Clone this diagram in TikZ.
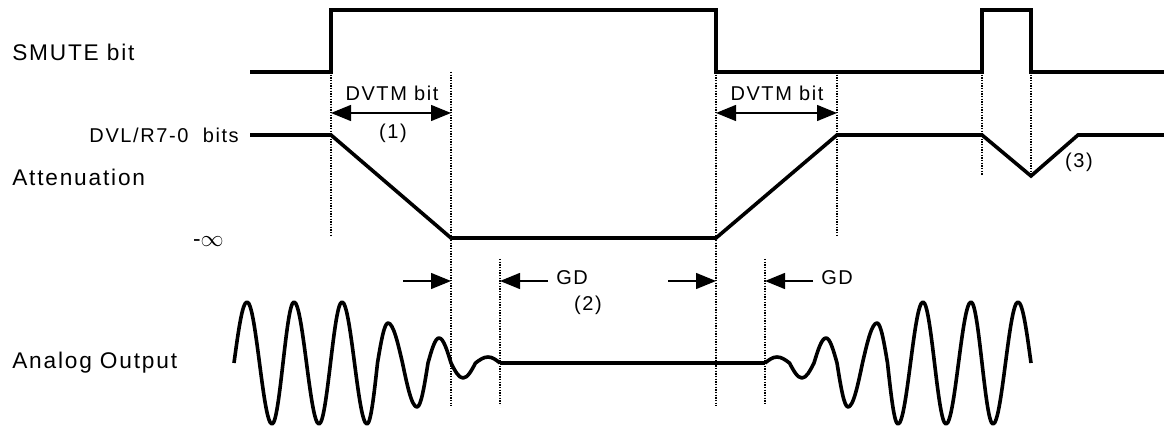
\documentclass[tikz,border=0pt]{standalone}
\usepackage{fontspec}
\setmainfont{Liberation Sans}[LetterSpace=8]
\usetikzlibrary{arrows.meta}

\tikzset{
  signal/.style={line width=2.7pt, line join=miter},
  guide/.style={line width=1pt, dash pattern=on 1pt off 1pt},
  span/.style={line width=1pt, {Triangle[length=15pt,width=12pt]}-{Triangle[length=15pt,width=12pt]}},
  push/.style={line width=1pt, -{Triangle[length=15pt,width=12pt]}},
  rowlabel/.style={inner sep=0pt, anchor=west, font=\fontsize{17}{20}\selectfont},
  note/.style={inner sep=0pt, font=\fontsize{15}{18}\selectfont},
}
% peak x / amplitude / next zero crossing, in pixels
\def\wavelist{247/61/259.5, 272/-61/283, 294/61/306.5, 319/-61/330.5,
  342/61/354.5, 367/-61/377.5, 388/40/402.5, 417/-44/428, 439/25/451,
  463/-15/475.5, 488/6/500}

\begin{document}
\begin{tikzpicture}[x=0.75pt, y=-0.75pt]
  \useasboundingbox (0,0) rectangle (1164,427);

  % labels on the left
  \node[rowlabel] (smute) at (12,52) {SMUTE bit};
  \node[note, anchor=east] (dvl) at (239,135) {DVL/R7-0~ bits};
  \node[rowlabel] (att) at (12,177) {Attenuation};
  \node[rowlabel, anchor=east] (minf) at (224,242) {-$\infty$};
  \node[rowlabel] (aout) at (12,363) {Analog Output};

  % dotted guides
  \draw[guide] (331,72) -- (331,237);
  \draw[guide] (451,72) -- (451,406);
  \draw[guide] (500,259) -- (500,404);
  \draw[guide] (716,72) -- (716,406);
  \draw[guide] (765,259) -- (765,404);
  \draw[guide] (837,72) -- (837,237);
  \draw[guide] (982,72) -- (982,176);
  \draw[guide] (1031,72) -- (1031,176);

  % SMUTE bit
  \draw[signal] (250,72) -- (331,72) -- (331,10) -- (716,10) -- (716,72)
    -- (982,72) -- (982,10) -- (1031,10) -- (1031,72) -- (1164,72);

  % attenuation
  \draw[signal] (250,135) -- (331,135) -- (451,238) -- (716,238) -- (837,135)
    -- (982,135) -- (1031,176) -- (1078,135) -- (1164,135);

  % DVTM spans
  \coordinate (d1a) at (331,113);
  \coordinate (d1b) at (451,113);
  \coordinate (d2a) at (716,113);
  \coordinate (d2b) at (837,113);
  \draw[span] (d1a) -- (d1b);
  \draw[span] (d2a) -- (d2b);
  \node[note] (dvtm1) at (392,93) {DVTM bit};
  \node[note] (n1) at (393,133) {(1)};
  \node[note] (dvtm2) at (777,93) {DVTM bit};
  \node[note] (n3) at (1079,162) {(3)};

  % GD marks
  \coordinate (g1) at (403,281);
  \coordinate (g2) at (548,281);
  \coordinate (g3) at (668,281);
  \coordinate (g4) at (813,281);
  \draw[push] (g1) -- (451,281);
  \draw[push] (g2) -- (500,281);
  \draw[push] (g3) -- (716,281);
  \draw[push] (g4) -- (765,281);
  \node[note, anchor=west] (gd1) at (556,278) {GD};
  \node[note] (n2) at (588,305) {(2)};
  \node[note, anchor=west] (gd2) at (821,278) {GD};

  % analog output
  \draw[signal, line join=round] (234,363)
    \foreach \p/\a/\z in \wavelist {sin (\p,{363-\a}) cos (\z,363)};
  \begin{scope}[shift={(1265,0)}, xscale=-1]
    \draw[signal, line join=round] (234,363)
      \foreach \p/\a/\z in \wavelist {sin (\p,{363-\a}) cos (\z,363)};
  \end{scope}
  \draw[signal] (500,363) -- (765,363);
\end{tikzpicture}
\end{document}
